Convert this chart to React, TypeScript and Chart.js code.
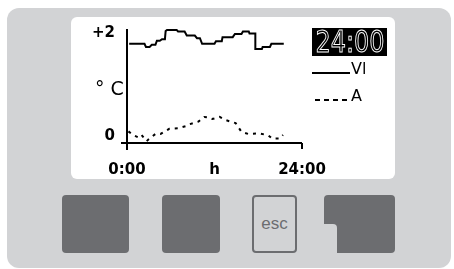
import React, { useEffect, useRef } from "react";
import { Chart, registerables } from "chart.js";

Chart.register(...registerables);

// Flow temperature "Vl" (solid) – hours / values
const vlHours = [0.3, 2.4, 2.6, 3.1, 3.4, 3.9, 4.1, 4.5, 4.8, 5.2, 5.3, 5.5, 6.8, 7.0, 7.9, 8.2, 9.3, 9.6, 10.0, 10.3, 12.0, 12.2, 13.0, 13.1, 14.5, 14.8, 15.7, 15.9, 16.7, 16.8, 17.6, 17.6, 18.5, 18.6, 19.6, 19.8, 21.5];
const vlValues = [1.79, 1.79, 1.73, 1.73, 1.77, 1.77, 1.85, 1.85, 1.88, 1.88, 2.04, 2.06, 2.06, 2.03, 2.03, 1.95, 1.95, 1.9, 1.9, 1.79, 1.79, 1.84, 1.84, 1.92, 1.92, 1.98, 1.98, 2.03, 2.03, 1.99, 1.99, 1.69, 1.69, 1.73, 1.73, 1.79, 1.79];

// Outdoor temperature "A" (dotted)
const aHours = [0.2, 0.8, 1.6, 2.0, 2.7, 3.0, 3.9, 4.6, 5.8, 7.0, 8.3, 8.6, 9.8, 10.6, 11.3, 11.7, 12.7, 13.5, 14.9, 15.7, 16.6, 18.2, 19.4, 19.9, 20.9, 21.4];
const aValues = [0.09, 0.02, -0.03, 0.02, -0.1, -0.06, 0.04, 0.04, 0.14, 0.15, 0.2, 0.23, 0.28, 0.37, 0.36, 0.33, 0.37, 0.31, 0.25, 0.08, 0.04, 0.05, 0.01, -0.05, -0.05, 0.02];

const seriesLabels = ["Vl", "A"];
const yTickValues = [0, 2];
const yTickLabels = ["0", "+2"];
const xTickValues = [0, 12, 24];
const xTickLabels = ["0:00", "h", "24:00"];
const unitLabel = "° C";
const clockLabel = "24:00";

const PANEL = "#d2d3d5";
const BTN = "#6c6d70";

const noPad = (s: any) => {
  s.paddingTop = 0;
  s.paddingBottom = 0;
  s.paddingLeft = 0;
  s.paddingRight = 0;
};

const devicePlugin = {
  id: "deviceDisplay",
  beforeDatasetsDraw(chart: any) {
    const { ctx, chartArea } = chart;
    const { left, right, top, bottom } = chartArea;
    ctx.save();
    ctx.strokeStyle = "#000";
    ctx.lineWidth = 2;
    ctx.beginPath();
    ctx.moveTo(left, top);
    ctx.lineTo(left, bottom + 7);
    ctx.moveTo(left - 6, bottom);
    ctx.lineTo(right, bottom);
    ctx.moveTo(right, bottom);
    ctx.lineTo(right, bottom + 6);
    ctx.stroke();
    ctx.restore();
  },
  afterDraw(chart: any) {
    const { ctx } = chart;
    ctx.save();
    ctx.fillStyle = "#000";
    ctx.font = "19px 'DejaVu Sans'";
    ctx.textAlign = "left";
    ctx.textBaseline = "alphabetic";
    ctx.fillText(unitLabel, 24, 78);

    ctx.fillStyle = "#000";
    ctx.fillRect(241, 11, 75, 28);
    ctx.save();
    ctx.translate(279, 35);
    ctx.scale(0.8, 1);
    ctx.font = "30px 'DejaVu Sans'";
    ctx.textAlign = "center";
    ctx.strokeStyle = "#fff";
    ctx.lineWidth = 1;
    ctx.strokeText(clockLabel, 0, 0);
    ctx.restore();

    const rows = [56, 83];
    chart.data.datasets.forEach((ds: any, i: number) => {
      const y = rows[i];
      ctx.save();
      ctx.strokeStyle = ds.borderColor;
      ctx.lineWidth = 2;
      ctx.setLineDash(i === 0 ? [] : [5, 4]);
      ctx.beginPath();
      ctx.moveTo(i === 0 ? 241 : 244, y);
      ctx.lineTo(279, y);
      ctx.stroke();
      ctx.restore();
      ctx.fillStyle = "#000";
      ctx.font = "16px 'DejaVu Sans'";
      ctx.textAlign = "left";
      ctx.textBaseline = "alphabetic";
      ctx.fillText(ds.label, 280, y + 1);
    });
    ctx.restore();
  },
};

function ChartCanvas() {
  const ref = useRef<HTMLCanvasElement | null>(null);
  useEffect(() => {
    if (!ref.current) return;
    const chart = new Chart(ref.current, {
      type: "line",
      data: {
        datasets: [
          {
            label: seriesLabels[0],
            data: vlHours.map((h, i) => ({ x: h, y: vlValues[i] })),
            borderColor: "#000",
            borderWidth: 2,
            pointRadius: 0,
            tension: 0,
            fill: false,
          },
          {
            label: seriesLabels[1],
            data: aHours.map((h, i) => ({ x: h, y: aValues[i] })),
            borderColor: "#000",
            borderWidth: 2,
            borderDash: [3, 5],
            pointRadius: 0,
            tension: 0,
            fill: false,
          },
        ],
      },
      options: {
        animation: false,
        responsive: false,
        devicePixelRatio: 1,
        layout: { padding: { left: 0, top: 12, right: 93, bottom: 0 } },
        plugins: { legend: { display: false }, tooltip: { enabled: false } },
        scales: {
          x: {
            type: "linear",
            min: 0,
            max: 24,
            afterBuildTicks: (s: any) => {
              s.ticks = xTickValues.map((v) => ({ value: v }));
            },
            afterFit: (s: any) => {
              s.height = 36;
              noPad(s);
            },
            ticks: {
              autoSkip: false,
              maxRotation: 0,
              padding: 18,
              color: "#000",
              font: { family: "'DejaVu Sans'", size: 15, weight: "bold" },
              callback: (v: any) => xTickLabels[xTickValues.indexOf(Number(v))] ?? "",
            },
            grid: { display: false, drawTicks: false },
            border: { display: false },
          },
          y: {
            min: -0.136,
            max: 2.078,
            afterBuildTicks: (s: any) => {
              s.ticks = yTickValues.map((v) => ({ value: v }));
            },
            afterFit: (s: any) => {
              s.width = 56;
              noPad(s);
            },
            ticks: {
              autoSkip: false,
              padding: 12,
              color: "#000",
              font: { family: "'DejaVu Sans'", size: 15, weight: "bold" },
              callback: (v: any) => yTickLabels[yTickValues.indexOf(Number(v))] ?? "",
            },
            grid: { display: false, drawTicks: false },
            border: { display: false },
          },
        },
      },
      plugins: [devicePlugin],
    } as any);
    return () => chart.destroy();
  }, []);
  return (
    <canvas
      ref={ref}
      width={324}
      height={162}
      style={{ position: "absolute", left: 71, top: 17, width: 324, height: 162 }}
    />
  );
}

export default function App() {
  const btn = (left: number, width: number) => ({
    position: "absolute" as const,
    left,
    top: 195,
    width,
    height: 58,
    background: BTN,
    borderRadius: 4,
  });
  return (
    <div
      style={{
        position: "fixed",
        left: 0,
        top: 0,
        width: 454,
        height: 269,
        background: "#fff",
        overflow: "hidden",
      }}
    >
      <div
        style={{
          position: "absolute",
          left: 7,
          top: 8,
          width: 444,
          height: 260,
          background: PANEL,
          borderRadius: 12,
        }}
      />
      <div
        style={{
          position: "absolute",
          left: 71,
          top: 17,
          width: 324,
          height: 162,
          background: "#fff",
          borderRadius: 6,
        }}
      />
      <ChartCanvas />
      <div style={btn(62, 67)} />
      <div style={btn(162, 58)} />
      <div
        style={{
          position: "absolute",
          left: 252,
          top: 195,
          width: 45,
          height: 58,
          boxSizing: "border-box",
          border: `2px solid ${BTN}`,
          borderRadius: 4,
          background: PANEL,
          color: BTN,
          fontFamily: "'Liberation Sans', Arial, sans-serif",
          fontSize: 17,
          display: "flex",
          alignItems: "center",
          justifyContent: "center",
        }}
      >
        esc
      </div>
      <div style={btn(324, 71)} />
      <div
        style={{
          position: "absolute",
          left: 324,
          top: 224,
          width: 13,
          height: 30,
          background: PANEL,
          borderTopRightRadius: 4,
        }}
      />
    </div>
  );
}
